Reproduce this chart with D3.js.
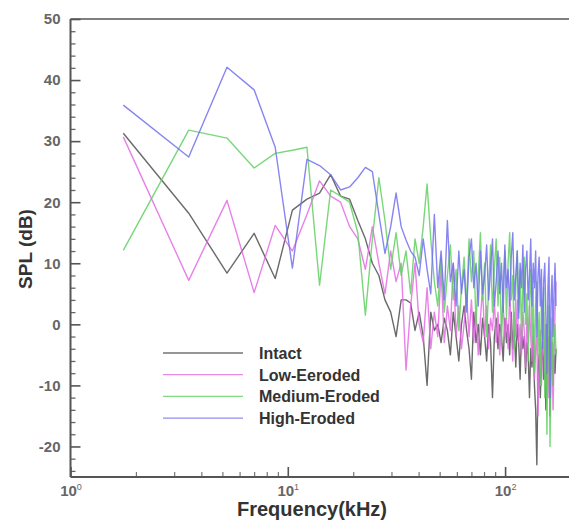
<!DOCTYPE html>
<html>
<head>
<meta charset="utf-8">
<script src="https://cdn.jsdelivr.net/npm/d3@7"></script>
<style>
  body { margin: 0; background: #fff; }
  text { font-family: "Liberation Sans", Arial, sans-serif; }
</style>
</head>
<body>
<div id="chart"></div>
<script>
var width = 569;
var height = 521;

// frequency bins (kHz)
var freq = [1.75, 3.5, 5.25, 7, 8.75, 10.5, 12.25, 14, 15.75, 17.5,
  19.25, 21, 22.75, 24.5, 26.25, 28, 29.75, 31.5, 33.25, 35,
  36.75, 38.5, 40.25, 42, 43.75, 45.5, 47.25, 49, 50.75, 52.5,
  54.25, 56, 57.75, 59.5, 61.25, 63, 64.75, 66.5, 68.25, 70,
  71.75, 73.5, 75.25, 77, 78.75, 80.5, 82.25, 84, 85.75, 87.5,
  89.25, 91, 92.75, 94.5, 96.25, 98, 99.75, 101.5, 103.25, 105,
  106.75, 108.5, 110.25, 112, 113.75, 115.5, 117.25, 119, 120.75, 122.5,
  124.25, 126, 127.75, 129.5, 131.25, 133, 134.75, 136.5, 138.25, 140,
  141.75, 143.5, 145.25, 147, 148.75, 150.5, 152.25, 154, 155.75, 157.5,
  159.25, 161, 162.75, 164.5, 166.25, 168, 169.75, 171.5];

var intact = [31.3, 18.2, 8.4, 14.9, 7.5, 18.7, 20.5, 21.5, 24.5, 21,
  20.5, 17, 14, 10, 8, 4, 2, -2, 4, 4,
  3.5, -1, 2, -2, -10, 2, -1, 0, -3, 1,
  -1, -5, 2, -2, -6, 0, 3, -1, -4, -9,
  2, -3, 0, -5, 1, -2, -6, 0, -3, -12,
  -2, 1, -4, 0, -2, -6, 1, -3, 0, -5,
  2, -4, -1, -7, 0, -3, -9, -1, -4, -2,
  -8, -3, -5, -12, -4, -7, -2, -10, -14, -23,
  -8, -5, -12, -6, -3, -9, -4, -14, -6, -2,
  -8, -15, -6, -3, -10, -5, -8, -4];

var lowEroded = [30.7, 7.2, 20.3, 5.2, 16.2, 12, 18, 23.5, 21, 20,
  16, 14, 9, 16, 10, 5, 12, 7, 10, -7.5,
  3, 10, 0, -3, 6, -4, 2, -2, 9, -3,
  3, -1, 10, -2, 3, -4, 0, 5, -2, 4,
  -3, 2, -5, 1, 6, -2, 3, -4, 1, -1,
  4, -3, 2, -5, 0, 3, -2, 1, -4, 5,
  -1, -6, 2, -2, 4, -3, 0, -5, 2, -1,
  -7, 1, -3, 3, -2, -6, 0, -9, -4, -2,
  -15, -6, -1, -10, -3, 2, -8, -4, 0, -12,
  -5, -1, -7, -3, -14, -5, 2, 7];

var mediumEroded = [12.1, 31.8, 30.5, 25.6, 28, 28.5, 29, 6.4, 22, 21,
  20, 15, 1.5, 14, 24, 17, 9, 15, 8, 12,
  5, 14, 10, 16, 23, 14, 7, 3, 11, 2,
  8, 13, 4, 9, -1, 6, 11, 3, 14, 7,
  12, 0, 8, 15, 4, 10, -2, 6, 13, 2,
  9, 14, 3, 11, -3, 7, 12, 1, 10, 15,
  4, 8, -4, 6, 12, 2, 9, -2, 7, 11,
  0, 5, -6, 4, 9, -3, 6, -8, 3, 7,
  -5, 2, -10, 4, -2, 6, -12, 0, -18, -4,
  3, -20, -6, 1, -10, -3, 0, -5];

var highEroded = [35.9, 27.4, 42.1, 38.4, 29, 9.2, 27, 26, 24.5, 22,
  22.5, 24, 25.7, 25, 18, 11.6, 16, 21.5, 16, 13.8,
  12, 11, 8, 14, 9, 5, 18, 6, 12, 4,
  17, 7, 10, 3, 12, 5, 9, 2, 11, 14,
  6, 10, 3, 12, 5, 8, 13, 4, 9, 14,
  3, 7, 12, 5, 10, 2, 13, 6, 9, 3,
  11, 15, 4, 8, 12, 1, 10, 6, 13, 2,
  9, 12, 4, 8, 14, 3, 10, 6, 12, -2,
  8, 11, 3, 9, -4, 7, 10, 2, -8, 6,
  11, -12, 4, 8, -2, 5, 10, 3];

var seriesNames = ["Intact", "Low-Eeroded", "Medium-Eroded", "High-Eroded"];
var seriesColors = ["#505050", "#e46be4", "#62d062", "#7270ee"];
var seriesData = [intact, lowEroded, mediumEroded, highEroded];

var yMajor = [-20, -10, 0, 10, 20, 30, 40, 50];
var xMajor = [1, 10, 100];
var xExp = ["0", "1", "2"];

var svg = d3.select("#chart")
  .append("svg")
  .attr("width", width)
  .attr("height", height);

var x = d3.scaleLog().domain([1, 200]).range([70.5, 570.5]);
var y = d3.scaleLinear().domain([-25, 50]).range([477, 19]);

// frame top line
svg.append("line")
  .attr("x1", x(1)).attr("x2", width)
  .attr("y1", y(50)).attr("y2", y(50))
  .attr("stroke", "#555").attr("stroke-width", 1.5);

// minor y ticks
var yMinor = d3.range(-24, 50, 2).filter(function(v) { return v % 10 != 0; });
svg.append("g")
  .attr("transform", "translate(" + x(1) + ",0)")
  .call(d3.axisLeft(y).tickValues(yMinor).tickSize(-5).tickSizeOuter(0).tickFormat(""))
  .call(function(g) { g.select(".domain").remove(); })
  .selectAll("line").attr("stroke", "#666").attr("stroke-width", 1.3);

// major y ticks
var gy = svg.append("g")
  .attr("transform", "translate(" + x(1) + ",0)")
  .call(d3.axisLeft(y).tickValues(yMajor).tickSize(-10).tickSizeOuter(0).tickPadding(10)
    .tickFormat(function(d) { return String(d); }));
gy.select(".domain").remove();
gy.selectAll("line").attr("stroke", "#555").attr("stroke-width", 1.6);
gy.selectAll("text").attr("font-size", 15).attr("fill", "#666").attr("font-weight", "bold");

// minor x ticks
var xMinor = [];
[1, 10, 100].forEach(function(d) {
  for (var k = 2; k <= 9; k++) if (d * k < 200) xMinor.push(d * k);
});
svg.append("g")
  .attr("transform", "translate(0," + y(-25) + ")")
  .call(d3.axisBottom(x).tickValues(xMinor).tickSize(-5).tickSizeOuter(0).tickFormat(""))
  .call(function(g) { g.select(".domain").remove(); })
  .selectAll("line").attr("stroke", "#777").attr("stroke-width", 1.2);

// major x ticks
var gx = svg.append("g")
  .attr("transform", "translate(0," + y(-25) + ")")
  .call(d3.axisBottom(x).tickValues(xMajor).tickSize(-10).tickSizeOuter(0).tickPadding(8).tickFormat(function() { return "10"; }));
gx.select(".domain").remove();
gx.selectAll("line").attr("stroke", "#555").attr("stroke-width", 1.6);
gx.selectAll("text")
  .attr("font-size", 15).attr("fill", "#666").attr("font-weight", "bold")
  .each(function(d, i) {
    d3.select(this).append("tspan")
      .attr("dy", -6).attr("font-size", 9).attr("font-weight", "normal")
      .text(xExp[i]);
  });

// axis lines
svg.append("line")
  .attr("x1", x(1)).attr("x2", x(1)).attr("y1", y(50)).attr("y2", y(-25))
  .attr("stroke", "#555").attr("stroke-width", 2);
svg.append("line")
  .attr("x1", x(1)).attr("x2", width).attr("y1", y(-25)).attr("y2", y(-25))
  .attr("stroke", "#555").attr("stroke-width", 2);

// data lines
var line = d3.line()
  .x(function(d) { return x(d[0]); })
  .y(function(d) { return y(d[1]); });

seriesData.forEach(function(vals, s) {
  var pts = freq.map(function(f, i) { return [f, vals[i]]; });
  svg.append("path")
    .datum(pts)
    .attr("d", line)
    .attr("fill", "none")
    .attr("stroke", seriesColors[s])
    .attr("stroke-opacity", 0.85)
    .attr("stroke-width", 1.4)
    .attr("stroke-linejoin", "round");
});

// legend
var legend = svg.append("g");
seriesNames.forEach(function(name, i) {
  var ly = 353 + i * 21.7;
  legend.append("line")
    .attr("x1", 163).attr("x2", 243).attr("y1", ly).attr("y2", ly)
    .attr("stroke", seriesColors[i]).attr("stroke-width", 1.3).attr("stroke-opacity", 0.8);
  legend.append("text")
    .attr("x", 259).attr("y", ly + 6)
    .attr("font-size", 16).attr("font-weight", "bold").attr("fill", "#333")
    .text(name);
});

// axis titles
svg.append("text")
  .attr("transform", "translate(32,249) rotate(-90)")
  .attr("text-anchor", "middle")
  .attr("font-size", 19).attr("font-weight", "bold").attr("fill", "#333")
  .text("SPL (dB)");

svg.append("text")
  .attr("x", 312).attr("y", 516)
  .attr("text-anchor", "middle")
  .attr("font-size", 20).attr("font-weight", "bold").attr("fill", "#333")
  .text("Frequency(kHz)");
</script>
</body>
</html>
